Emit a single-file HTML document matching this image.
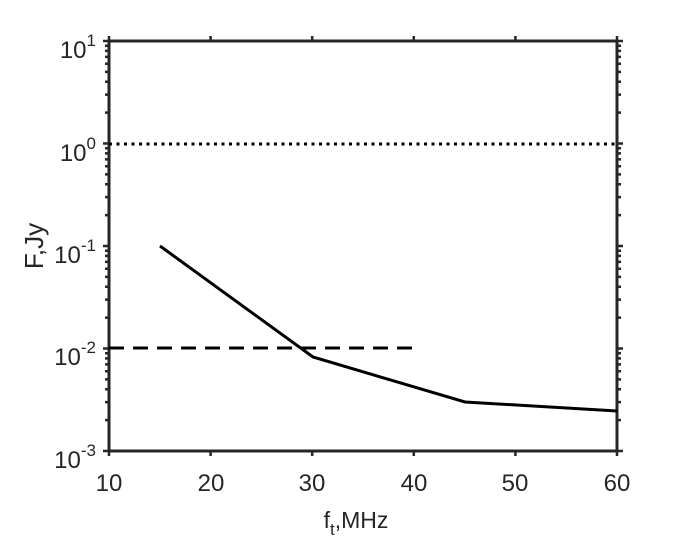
<!DOCTYPE html>
<html><head><meta charset="utf-8"><style>body{margin:0;background:#fff}svg{display:block}</style></head><body>
<svg width="681" height="546" xmlns="http://www.w3.org/2000/svg" font-family="Liberation Sans, sans-serif">
<rect width="681" height="546" fill="#fff"/>
<g stroke="#262626" stroke-width="2.5" fill="none">
<path d="M103 451H109M103 348.5H109M103 246H109M103 143.5H109M103 41H109
M105 420.1H109M105 402.1H109M105 389.3H109M105 379.4H109M105 371.2H109M105 364.4H109M105 358.4H109M105 353.2H109
M105 317.6H109M105 299.6H109M105 286.8H109M105 276.9H109M105 268.7H109M105 261.9H109M105 255.9H109M105 250.7H109
M105 215.1H109M105 197.1H109M105 184.3H109M105 174.4H109M105 166.2H109M105 159.4H109M105 153.4H109M105 148.2H109
M105 112.6H109M105 94.6H109M105 81.8H109M105 71.9H109M105 63.7H109M105 56.9H109M105 50.9H109M105 45.7H109"/>
<path d="M617 451H623M617 348.5H623M617 246H623M617 143.5H623M617 41H623
M617 420.1H621M617 402.1H621M617 389.3H621M617 379.4H621M617 371.2H621M617 364.4H621M617 358.4H621M617 353.2H621
M617 317.6H621M617 299.6H621M617 286.8H621M617 276.9H621M617 268.7H621M617 261.9H621M617 255.9H621M617 250.7H621
M617 215.1H621M617 197.1H621M617 184.3H621M617 174.4H621M617 166.2H621M617 159.4H621M617 153.4H621M617 148.2H621
M617 112.6H621M617 94.6H621M617 81.8H621M617 71.9H621M617 63.7H621M617 56.9H621M617 50.9H621M617 45.7H621"/>
<path d="M109 451V456M210.6 451V456M312.2 451V456M413.8 451V456M515.4 451V456M617 451V456
M109 36V41M210.6 36V41M312.2 36V41M413.8 36V41M515.4 36V41M617 36V41"/>
</g>
<rect x="109" y="41" width="508" height="410" fill="none" stroke="#262626" stroke-width="3"/>
<g stroke="#000" stroke-width="3" fill="none">
<line x1="109" y1="144" x2="617" y2="144" stroke-dasharray="3,4.5"/>
<line x1="109" y1="348" x2="414" y2="348" stroke-dasharray="15,9"/>
<polyline points="160,246 313,357 465,402 617,411"/>
</g>
<g font-size="24" fill="#262626" text-anchor="middle">
<text x="109" y="491">10</text><text x="211" y="491">20</text><text x="312" y="491">30</text><text x="414" y="491">40</text><text x="515" y="491">50</text><text x="617" y="491">60</text>
</g>
<g font-size="24" fill="#262626" text-anchor="end">
<text x="96" y="58">10<tspan font-size="17" dy="-12">1</tspan></text>
<text x="96" y="161">10<tspan font-size="17" dy="-12">0</tspan></text>
<text x="96" y="263">10<tspan font-size="17" dy="-12">-1</tspan></text>
<text x="96" y="365">10<tspan font-size="17" dy="-12">-2</tspan></text>
<text x="96" y="468">10<tspan font-size="17" dy="-12">-3</tspan></text>
</g>
<text x="356" y="528" font-size="23" fill="#262626" text-anchor="middle">f<tspan font-size="17" dy="7">t</tspan><tspan dy="-7">,MHz</tspan></text>
<text transform="translate(43,246) rotate(-90)" font-size="26" fill="#262626" text-anchor="middle">F,Jy</text>
</svg>
</body></html>
